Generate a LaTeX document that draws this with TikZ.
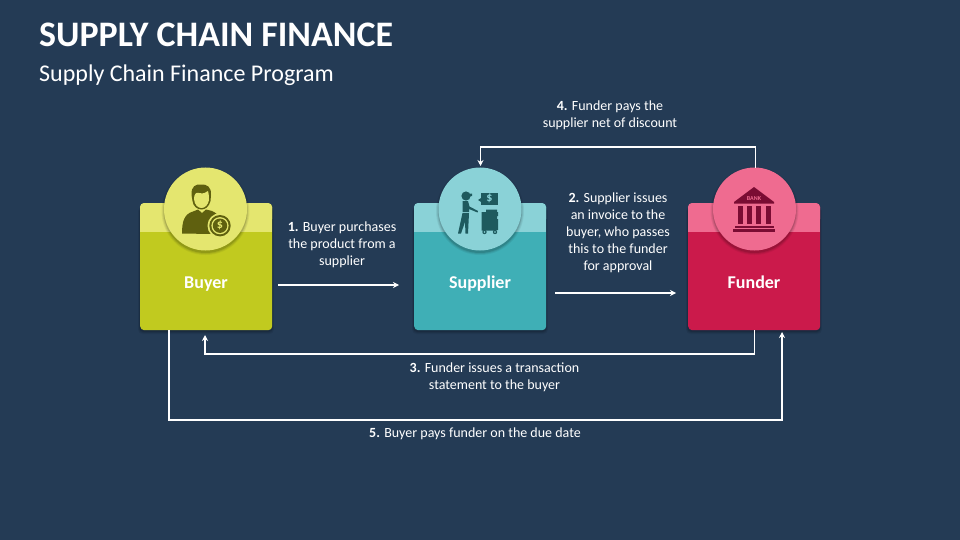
\documentclass[tikz,border=0pt]{standalone}
\usepackage{fontspec}
\setmainfont{Carlito}
\usetikzlibrary{arrows.meta}
\definecolor{bg}{HTML}{243B55}
\definecolor{lime}{HTML}{C1CA1F}
\definecolor{limel}{HTML}{E4E66F}
\definecolor{limed}{HTML}{5F600F}
\definecolor{teal}{HTML}{3FAFB6}
\definecolor{teall}{HTML}{8AD2D7}
\definecolor{teald}{HTML}{1E5A5E}
\definecolor{crim}{HTML}{CB1A4B}
\definecolor{criml}{HTML}{EF6B90}
\definecolor{crimd}{HTML}{7A0C33}
\tikzset{
  x=1pt,y=-1pt,
  card/.style={rectangle,rounded corners=4pt,minimum width=132pt,minimum height=127pt,inner sep=0pt,anchor=north west},
  disc/.style={circle,minimum size=83pt,inner sep=0pt},
  cardtitle/.style={font=\fontsize{18}{20}\selectfont\bfseries,text=white,anchor=base,inner sep=0pt},
  lab/.style={font=\fontsize{14}{17}\selectfont,text=white,align=center},
  flow/.style={draw=white,line width=1.4pt,-{Stealth[length=6pt,width=6pt]}},
}
\newcommand{\shadowed}[5]{% x, y(top), light, main, name
  \foreach \o/\a in {3/.06,2/.08,1/.12}{
    \fill[black,opacity=\a,rounded corners=4pt] (#1-\o*.6,#2+4) rectangle (#1+132+\o*.6,#2+127+1+\o);
  }
  \node[card,fill=#4] (#5) at (#1,#2) {};
  \fill[#3,rounded corners=4pt] (#1,#2) rectangle (#1+132,#2+20);
  \fill[#3] (#1,#2+10) rectangle (#1+132,#2+29);
}
\newcommand{\discshadow}[2]{%
  \foreach \r/\a in {44/.06,43/.08,42/.12}{
    \fill[black,opacity=\a] (#1,#2+2) circle[radius=\r];
  }
}
\begin{document}
\begin{tikzpicture}
\useasboundingbox (0,0) rectangle (960,540);
\fill[bg] (0,0) rectangle (960,540);

\node[anchor=base west,inner sep=0pt,font=\fontsize{35.9}{40}\selectfont\bfseries,text=white] (title) at (39,46.5) {SUPPLY CHAIN FINANCE};
\node[anchor=base west,inner sep=0pt,font=\fontsize{24}{28}\selectfont,text=white] (subtitle) at (39,81.5) {Supply Chain Finance Program};

\shadowed{140}{203}{limel}{lime}{buyer}
\shadowed{414}{203}{teall}{teal}{supplier}
\shadowed{688}{203}{criml}{crim}{funder}

\discshadow{205.5}{209}
\discshadow{480}{209}
\discshadow{754.5}{209}
\node[disc,fill=limel] (dbuyer) at (205.5,209) {};
\node[disc,fill=teall] (dsupplier) at (480,209) {};
\node[disc,fill=criml] (dfunder) at (754.5,209) {};

\node[cardtitle] (tbuyer) at (206,288) {Buyer};
\node[cardtitle] (tsupplier) at (480,288) {Supplier};
\node[cardtitle] (tfunder) at (754,288) {Funder};

% buyer icon
\fill[limed] (182,233.5) .. controls (182,222) and (184,214) .. (193,211.5) -- (198,209.5) -- (202,213) -- (206,209.5) -- (212,211) .. controls (214,212) and (216,213) .. (218,215) -- (211,224) -- (211,234) -- cycle;
\fill[limed] (191.5,195) .. controls (191,186) and (196,184) .. (201,184.5) .. controls (207,184) and (211.5,187) .. (211,195) -- (210.5,201) .. controls (209,207) and (205,209.5) .. (201.5,209.5) .. controls (197,209.5) and (193,206) .. (192.5,201) -- cycle;
\fill[limel] (194,199) .. controls (194,194) and (196,192) .. (199,193) .. controls (203,194) and (206,193) .. (208,191) .. controls (209,195) and (209,197) .. (209,200) .. controls (208,205) and (205,208) .. (201.5,208) .. controls (198,208) and (194.5,205) .. (194,199) -- cycle;
\fill[limel] (220,225.7) circle[radius=12.5];
\fill[limed] (220,225.7) circle[radius=10.7];
\fill[limel] (220,225.7) circle[radius=8.6];
\fill[limed] (220,225.7) circle[radius=7.2];
\node[inner sep=0pt,text=limel,font=\fontsize{12}{12}\selectfont\bfseries] (coin) at (220,225.7) {\$};

% supplier icon
\fill[teald] (466,196) circle[radius=4.6];
\fill[teald] (461.5,195) -- (472,193.5) -- (472,196) -- (466,197) -- cycle;
\fill[teald] (462.5,201) -- (468,201) -- (469.5,206.5) -- (478,211) -- (477.5,212.5) -- (469,209) -- (469,212) -- (462.5,212) -- cycle;
\fill[teald] (462.5,213) -- (469,213) -- (468,233.5) -- (465.5,233.5) -- (465,222) -- (461,233.5) -- (458,233.5) -- cycle;
\fill[teald] (481,192.5) rectangle (498,204.5);
\fill[teald] (478,200) -- (481,198) -- (481,202) -- cycle;
\node[inner sep=0pt,text=teall,font=\fontsize{12}{12}\selectfont\bfseries] (sign) at (489.5,198.5) {\$};
\fill[teald] (481.5,212) -- (486,212) -- (486,209.5) -- (497,209.5) -- (497,212) -- (498,212) -- (498,216) -- (497,216) -- (497,219) -- (498,219) -- (498,230) -- (494,230.5) -- (481.5,230.5) -- cycle;
\fill[teald] (484.5,232) circle[radius=2.2];
\fill[teald] (495,232) circle[radius=2.2];
\fill[teall] (484.5,232) circle[radius=.9];
\fill[teall] (495,232) circle[radius=.9];

% funder icon
\fill[crimd] (754,187) -- (774,202) -- (774,203.5) -- (734,203.5) -- (734,202) -- cycle;
\node[inner sep=0pt,text=criml,font=\fontsize{6}{6}\selectfont\bfseries] (bank) at (754,199) {BANK};
\foreach \cx in {737.5,747,756.2,765.5}{
  \fill[crimd] (\cx,206) rectangle (\cx+5,224);
}
\fill[crimd] (735,226) rectangle (773.5,228);
\fill[crimd] (733,229) rectangle (775,231.8);

% connectors
\coordinate (a1s) at (278,285); \coordinate (a1e) at (399,285);
\coordinate (a2s) at (555,293); \coordinate (a2e) at (676,293);
\coordinate (a3s) at (754.5,330); \coordinate (a3e) at (205,335);
\coordinate (a4s) at (755.5,168); \coordinate (a4e) at (480.5,166);
\coordinate (a5s) at (169,330); \coordinate (a5e) at (782,332);
\draw[flow] (a1s) -- (a1e);
\draw[flow] (a2s) -- (a2e);
\draw[flow] (a3s) |- (205,354) -- (a3e);
\draw[flow] (a4s) |- (480.5,147) -- (a4e);
\draw[flow] (a5s) |- (782,420) -- (a5e);

% labels
\node[lab] (l1) at (342,245) {\textbf{1.} Buyer purchases\\the product from a\\supplier};
\node[lab] (l2) at (618,232.5) {\textbf{2.} Supplier issues\\an invoice to the\\buyer, who passes\\this to the funder\\for approval};
\node[lab] (l3) at (494.5,377) {\textbf{3.} Funder issues a transaction\\statement to the buyer};
\node[lab] (l4) at (610,115) {\textbf{4.} Funder pays the\\supplier net of discount};
\node[lab] (l5) at (475,433.5) {\textbf{5.} Buyer pays funder on the due date};
\end{tikzpicture}
\end{document}
